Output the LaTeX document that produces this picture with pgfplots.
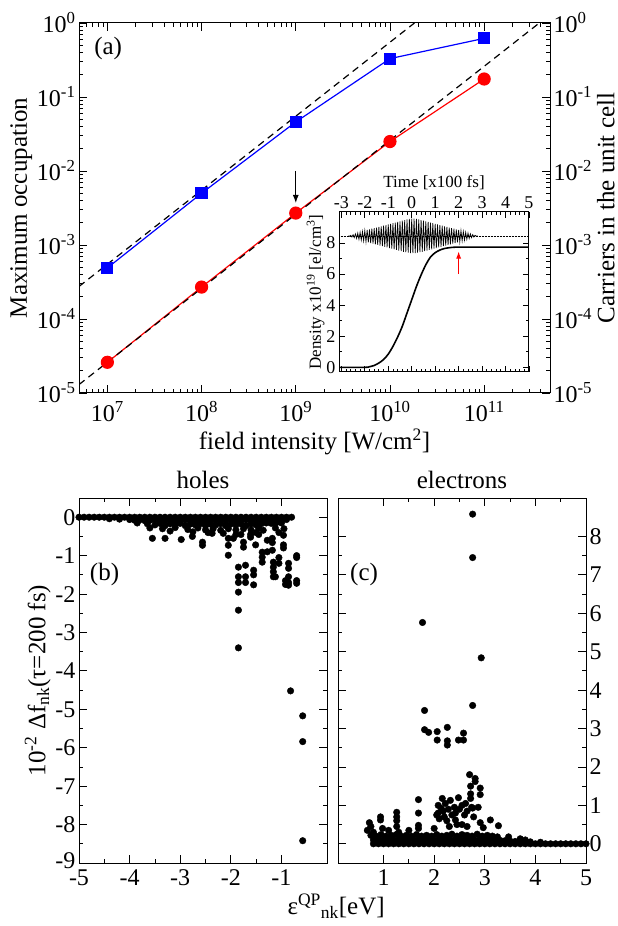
\documentclass[border=0pt]{standalone}
\usepackage{pgfplots}
\pgfplotsset{compat=1.18}
\usepackage{fontspec}
\setmainfont{Liberation Serif}
\usetikzlibrary{arrows.meta}

\pgfplotsset{
  every axis/.append style={
    scale only axis, tick align=inside,
    font=\fontsize{24pt}{28pt}\selectfont,
    label style={font=\fontsize{25pt}{29pt}\selectfont},
    title style={font=\fontsize{25pt}{29pt}\selectfont},
    axis line style={line width=1pt},
    every tick/.style={black, line width=0.8pt},
    major tick length=8pt, minor tick length=4pt,
    /pgf/number format/assume math mode=true,
  },
}

\begin{document}
\begin{tikzpicture}[x=1pt,y=1pt]
\path (0,0) rectangle (618,926);

% ---------------- panel (a)
\begin{axis}[
  at={(79pt,533pt)}, anchor=south west,
  width=471pt, height=370pt,
  xmode=log, ymode=log,
  xmin=5e6, xmax=5e11, ymin=1e-5, ymax=1,
  xtick={1e7,1e8,1e9,1e10,1e11},
  xticklabels={10\textsuperscript{7},10\textsuperscript{8},10\textsuperscript{9},10\textsuperscript{10},10\textsuperscript{11}},
  xticklabel style={yshift=-5pt},
  minor xtick={6e6,7e6,8e6,9e6,2e7,3e7,4e7,5e7,6e7,7e7,8e7,9e7,2e8,3e8,4e8,5e8,6e8,7e8,8e8,9e8,
    2e9,3e9,4e9,5e9,6e9,7e9,8e9,9e9,2e10,3e10,4e10,5e10,6e10,7e10,8e10,9e10,2e11,3e11,4e11},
  ytick={1e-5,1e-4,1e-3,1e-2,1e-1,1},
  yticklabels={10\textsuperscript{-5},10\textsuperscript{-4},10\textsuperscript{-3},10\textsuperscript{-2},10\textsuperscript{-1},10\textsuperscript{0}},
  minor ytick={2e-5,3e-5,4e-5,5e-5,6e-5,7e-5,8e-5,9e-5,2e-4,3e-4,4e-4,5e-4,6e-4,7e-4,8e-4,9e-4,
    2e-3,3e-3,4e-3,5e-3,6e-3,7e-3,8e-3,9e-3,2e-2,3e-2,4e-2,5e-2,6e-2,7e-2,8e-2,9e-2,
    2e-1,3e-1,4e-1,5e-1,6e-1,7e-1,8e-1,9e-1},
  xlabel={field intensity [W/cm\textsuperscript{2}]},
  ylabel={Maximum occupation},
  ylabel style={yshift=-2pt},
]
\addplot[blue, line width=1.2pt, mark=square*, mark size=5.5pt] coordinates {
  (1e7,4.9e-4) (1e8,5.0e-3) (1e9,4.6e-2) (1e10,0.33) (1e11,0.62)};
\addplot[red, line width=1.2pt, mark=*, mark size=6pt] coordinates {
  (1e7,2.6e-5) (1e8,2.7e-4) (1e9,2.7e-3) (1e10,2.5e-2) (1e11,0.175)};
\addplot[black, line width=1.2pt, dash pattern=on 7pt off 5pt] coordinates {(5e6,2.75e-4) (1.82e10,1)};
\addplot[black, line width=1.2pt, dash pattern=on 7pt off 5pt] coordinates {(5e6,1.3e-5) (3.85e11,1)};
\draw[black, line width=1pt, -{Latex[length=8pt,width=6pt]}] (axis cs:1e9,1e-2) -- (axis cs:1e9,3.7e-3);
\node[anchor=west, font=\fontsize{25pt}{29pt}\selectfont] at (rel axis cs:0.025,0.93) {(a)};
\end{axis}

% right-hand labels of panel (a)
\begin{axis}[
  at={(79pt,533pt)}, anchor=south west,
  width=471pt, height=370pt,
  xmode=log, ymode=log,
  xmin=5e6, xmax=5e11, ymin=1e-5, ymax=1,
  xtick=\empty, minor ytick={}, major tick length=0pt,
  axis line style={draw=none},
  ytick={1e-5,1e-4,1e-3,1e-2,1e-1,1},
  yticklabels={10\textsuperscript{-5},10\textsuperscript{-4},10\textsuperscript{-3},10\textsuperscript{-2},10\textsuperscript{-1},10\textsuperscript{0}},
  yticklabel pos=right,
  ylabel={Carriers in the unit cell},
  ylabel style={yshift=2pt},
]
\addplot[draw=none] coordinates {(1e8,1e-3)};
\end{axis}

% ---------------- inset
\begin{axis}[
  at={(339pt,554pt)}, anchor=south west,
  width=190pt, height=160pt,
  axis background/.style={fill=white},
  font=\fontsize{18pt}{21pt}\selectfont,
  label style={font=\fontsize{17pt}{20pt}\selectfont},
  major tick length=6pt, minor tick length=3pt,
  xmin=-3.1, xmax=5, ymin=-0.3, ymax=10,
  xtick={-3,-2,...,5}, minor x tick num=4,
  ytick={0,2,4,6,8}, minor y tick num=1,
  xticklabel pos=upper,
  xlabel={Time [x100 fs]},
  ylabel={Density x10\textsuperscript{19} [el/cm\textsuperscript{3}]},
  ylabel style={yshift=-5pt},
]
\addplot[black, densely dotted, line width=0.5pt] coordinates {(-3.1,8.45) (5,8.45)};
\addplot[black, line width=0.7pt] coordinates {
(-2.70,8.47) (-2.65,8.43) (-2.60,8.50) (-2.55,8.39) (-2.50,8.54) (-2.45,8.35)
(-2.40,8.59) (-2.35,8.30) (-2.30,8.64) (-2.25,8.24) (-2.20,8.69) (-2.15,8.19)
(-2.10,8.74) (-2.05,8.14) (-2.00,8.80) (-1.95,8.08) (-1.90,8.84) (-1.85,8.04)
(-1.80,8.88) (-1.75,8.00) (-1.70,8.92) (-1.65,7.96) (-1.60,8.96) (-1.55,7.92)
(-1.50,9.00) (-1.45,7.88) (-1.40,9.04) (-1.35,7.84) (-1.30,9.08) (-1.25,7.80)
(-1.20,9.12) (-1.15,7.76) (-1.10,9.16) (-1.05,7.72) (-1.00,9.20) (-0.95,7.68)
(-0.90,9.24) (-0.85,7.64) (-0.80,9.28) (-0.75,7.60) (-0.70,9.32) (-0.65,7.56)
(-0.60,9.36) (-0.55,7.52) (-0.50,9.40) (-0.45,7.48) (-0.40,9.44) (-0.35,7.44)
(-0.30,9.48) (-0.25,7.41) (-0.20,9.52) (-0.15,7.38) (-0.10,9.55) (-0.05,7.36)
(0.00,9.58) (0.05,7.35) (0.10,9.58) (0.15,7.36) (0.20,9.55) (0.25,7.38)
(0.30,9.52) (0.35,7.41) (0.40,9.48) (0.45,7.44) (0.50,9.44) (0.55,7.48)
(0.60,9.40) (0.65,7.52) (0.70,9.36) (0.75,7.56) (0.80,9.32) (0.85,7.60)
(0.90,9.28) (0.95,7.64) (1.00,9.24) (1.05,7.68) (1.10,9.20) (1.15,7.72)
(1.20,9.16) (1.25,7.76) (1.30,9.12) (1.35,7.80) (1.40,9.08) (1.45,7.84)
(1.50,9.04) (1.55,7.88) (1.60,9.00) (1.65,7.92) (1.70,8.96) (1.75,7.96)
(1.80,8.92) (1.85,8.00) (1.90,8.88) (1.95,8.04) (2.00,8.84) (2.05,8.08)
(2.10,8.80) (2.15,8.14) (2.20,8.74) (2.25,8.19) (2.30,8.69) (2.35,8.24)
(2.40,8.64) (2.45,8.30) (2.50,8.59) (2.55,8.35) (2.60,8.54) (2.65,8.39)
(2.70,8.50) (2.75,8.43) (2.80,8.47)};
\addplot[black, line width=1.6pt, smooth] coordinates {
  (-3.1,0) (-2,0) (-1.8,0.04) (-1.6,0.12) (-1.4,0.28) (-1.2,0.5) (-1.0,0.85)
  (-0.8,1.35) (-0.6,1.95) (-0.4,2.65) (-0.2,3.5) (0,4.35) (0.2,5.2) (0.4,5.95)
  (0.6,6.6) (0.8,7.1) (1.0,7.38) (1.2,7.55) (1.4,7.65) (1.6,7.7) (1.8,7.73) (2.2,7.74) (5,7.74)};
\draw[red, line width=0.8pt, -{Latex[length=7pt,width=5pt]}] (axis cs:2,6.0) -- (axis cs:2,7.45);
\end{axis}

% ---------------- panel (b)
\begin{axis}[
  at={(79pt,63pt)}, anchor=south west,
  width=248pt, height=365pt,
  xmin=-5, xmax=-0.1, ymin=-9, ymax=0.5,
  xtick={-5,-4,-3,-2,-1}, ytick={-9,-8,...,0},
  yticklabels={\raisebox{5pt}{-9},-8,-7,-6,-5,-4,-3,-2,-1,0},
  xticklabel style={yshift=-3pt},
  minor tick num=1,
  title={holes},
  ylabel={10\textsuperscript{-2} Δf\textsubscript{nk}(τ=200 fs)},
  ylabel style={yshift=-2pt},
]
\addplot[only marks, mark=*, mark size=3.3pt, black] coordinates {
(-5,0) (-4.9,0) (-4.8,0) (-4.7,0) (-4.6,0) (-4.5,0) (-4.4,0) (-4.3,0) (-4.2,0) (-4.1,0)
(-4,0) (-3.9,0) (-3.8,0) (-3.7,0) (-3.6,0) (-3.5,0) (-3.4,0) (-3.3,0) (-3.2,0) (-3.1,0)
(-3,0) (-2.9,0) (-2.8,0) (-2.7,0) (-2.6,0) (-2.5,0) (-2.4,0) (-2.3,0) (-2.2,0) (-2.1,0)
(-2,0) (-1.9,0) (-1.8,0) (-1.7,0) (-1.6,0) (-1.5,0) (-1.4,0) (-1.3,0) (-1.2,0) (-1.1,0)
(-1,0) (-0.9,0) (-0.8,0)
(-4.4,-0.04) (-4.2,-0.05) (-4.0,-0.06) (-3.9,-0.08) (-3.8,-0.07) (-3.7,-0.09) (-3.6,-0.08)
(-3.5,-0.07) (-3.4,-0.09) (-3.3,-0.08) (-3.2,-0.07) (-3.1,-0.09) (-3.0,-0.08) (-2.9,-0.07)
(-2.8,-0.09) (-2.7,-0.08) (-2.6,-0.07) (-2.5,-0.09) (-2.4,-0.08) (-2.3,-0.07) (-2.2,-0.09)
(-2.1,-0.08) (-2.0,-0.07) (-1.9,-0.09) (-1.8,-0.08) (-1.7,-0.07) (-1.6,-0.09) (-1.5,-0.08)
(-1.4,-0.07) (-1.3,-0.09) (-1.2,-0.08) (-1.1,-0.07) (-1.0,-0.09) (-0.9,-0.06)
(-3.85,-0.15) (-3.65,-0.17) (-3.5,-0.2) (-3.4,-0.16) (-3.3,-0.22) (-3.2,-0.17) (-3.1,-0.2)
(-3.0,-0.16) (-2.9,-0.22) (-2.8,-0.18) (-2.7,-0.2) (-2.6,-0.17) (-2.5,-0.22) (-2.4,-0.18)
(-2.3,-0.2) (-2.2,-0.17) (-2.1,-0.22) (-2.0,-0.18) (-1.9,-0.2) (-1.8,-0.17) (-1.7,-0.22)
(-1.6,-0.18) (-1.5,-0.2) (-1.4,-0.17) (-1.3,-0.15) (-1.2,-0.16) (-1.1,-0.14) (-1.0,-0.15)
(-3.6,-0.28) (-3.35,-0.3) (-3.1,-0.27) (-2.85,-0.32) (-2.65,-0.28) (-2.5,-0.33)
(-2.35,-0.3) (-2.2,-0.34) (-2.05,-0.3) (-1.9,-0.33) (-1.75,-0.3) (-1.6,-0.33) (-1.45,-0.28)
(-1.36,-0.34) (-1.12,-0.28) (-0.95,-0.3) (-2.45,-0.4) (-2.75,-0.38) (-3.2,-0.36) (-1.5,-0.4)
(-3.55,-0.55) (-3.3,-0.55) (-2.98,-0.58) (-2.76,-0.5) (-2.56,-0.65) (-2.56,-0.73)
(-2.37,-0.42) (-2.15,-0.42) (-2.05,-0.55) (-2.05,-0.73) (-2.05,-0.99) (-1.95,-0.55)
(-1.9,-0.45) (-1.8,-0.45)
(-1.85,-1.3) (-1.85,-1.55) (-1.85,-1.7) (-1.85,-1.95) (-1.85,-2.42) (-1.85,-3.4)
(-1.75,-0.65) (-1.75,-0.78) (-1.71,-1.25) (-1.71,-1.55) (-1.71,-1.7)
(-1.61,-0.45) (-1.61,-0.52) (-1.55,-1.38) (-1.55,-1.5) (-1.55,-1.76) (-1.51,-0.72)
(-1.45,-0.45) (-1.38,-0.91) (-1.38,-1.04) (-1.38,-1.17) (-1.28,-0.9) (-1.28,-0.6)
(-1.18,-0.55) (-1.18,-0.66) (-1.18,-0.86) (-1.16,-1.17) (-1.16,-1.3) (-1.16,-1.42)
(-1.16,-1.55) (-1.12,-1.55) (-1.05,-0.4) (-1.05,-1.05) (-1.05,-1.2)
(-0.96,-0.47) (-0.96,-0.72) (-0.96,-0.8) (-0.92,-1.65) (-0.92,-1.75)
(-0.86,-1.2) (-0.86,-1.33) (-0.86,-1.55) (-0.86,-1.7) (-0.86,-1.77)
(-0.7,-1.0) (-0.7,-1.05) (-0.7,-1.65) (-0.7,-1.72)
(-0.82,-4.52) (-0.58,-5.17) (-0.58,-5.84) (-0.58,-8.42)};
\node[anchor=west, font=\fontsize{25pt}{29pt}\selectfont] at (rel axis cs:0.03,0.79) {(b)};
\end{axis}

% ---------------- panel (c)
\begin{axis}[
  at={(338pt,63pt)}, anchor=south west,
  width=248pt, height=365pt,
  xmin=0.1, xmax=5, ymin=-0.5, ymax=9,
  xtick={1,2,3,4,5}, ytick={0,1,...,8},
  xticklabel style={yshift=-3pt},
  minor tick num=1,
  yticklabel pos=right,
  title={electrons},
]
\addplot[only marks, mark=*, mark size=3.3pt, black] coordinates {
(0.8,0) (0.9,0) (1,0) (1.1,0) (1.2,0) (1.3,0) (1.4,0) (1.5,0) (1.6,0) (1.7,0)
(1.8,0) (1.9,0) (2,0) (2.1,0) (2.2,0) (2.3,0) (2.4,0) (2.5,0) (2.6,0) (2.7,0)
(2.8,0) (2.9,0) (3,0) (3.1,0) (3.2,0) (3.3,0) (3.4,0) (3.5,0) (3.6,0) (3.7,0)
(3.8,0) (3.9,0) (4,0) (4.1,0) (4.2,0) (4.3,0) (4.4,0) (4.5,0) (4.6,0) (4.7,0)
(4.8,0) (4.9,0) (5,0)
(0.8,0.1) (0.9,0.11) (1,0.1) (1.1,0.12) (1.2,0.1) (1.3,0.11) (1.4,0.1) (1.5,0.12)
(1.6,0.1) (1.7,0.11) (1.8,0.1) (1.9,0.12) (2,0.1) (2.1,0.11) (2.2,0.1) (2.3,0.12)
(2.4,0.1) (2.5,0.11) (2.6,0.1) (2.7,0.12) (2.8,0.1) (2.9,0.11) (3,0.1) (3.1,0.12)
(3.2,0.1) (3.3,0.09) (3.4,0.08) (3.5,0.07) (3.6,0.06) (3.7,0.05) (3.9,0.05) (4.1,0.04)
(0.75,0.22) (0.85,0.2) (0.95,0.24) (1.05,0.2) (1.15,0.22) (1.25,0.24) (1.35,0.2)
(1.45,0.22) (1.55,0.2) (1.65,0.24) (1.75,0.2) (1.85,0.22) (1.95,0.2) (2.05,0.24)
(2.15,0.2) (2.25,0.22) (2.35,0.25) (2.45,0.2) (2.55,0.24) (2.65,0.22) (2.75,0.2)
(2.85,0.25) (2.95,0.2) (3.05,0.22) (3.15,0.2) (3.25,0.18) (3.47,0.18) (3.7,0.13) (3.8,0.1)
(0.68,0.35) (0.72,0.55) (0.75,0.45) (0.8,0.3) (0.94,0.7) (0.94,0.62) (0.98,0.4)
(1.1,0.35) (1.26,0.82) (1.26,0.7) (1.26,0.6) (1.26,0.45) (1.3,0.3) (1.5,0.35)
(1.69,1.15) (1.69,0.8) (1.69,0.48) (1.69,0.4) (2.0,0.4) (2.05,0.75) (2.08,1.0)
(2.08,0.8) (2.1,0.65) (2.14,0.92) (2.16,1.18) (2.18,0.85) (2.2,0.7) (2.22,1.05)
(2.25,0.6) (2.28,0.9) (2.3,0.45) (2.32,1.13) (2.35,0.75) (2.4,0.95) (2.42,0.8)
(2.42,0.62) (2.45,0.5) (2.48,1.2) (2.5,0.9) (2.55,1.0) (2.55,0.5) (2.6,0.75)
(2.62,1.05) (2.65,0.85) (2.65,0.45) (2.7,1.8) (2.72,1.5) (2.72,1.3) (2.72,1.18)
(2.74,0.95) (2.76,0.93) (2.78,0.7) (2.81,1.7) (2.81,1.62) (2.87,0.95) (2.91,1.45)
(2.91,1.28) (2.91,0.55) (2.97,0.42) (3.11,0.62) (3.27,0.47)
(1.81,3.47) (1.81,2.97) (1.89,2.9) (2.06,2.92) (2.06,2.7) (2.26,3.03) (2.26,2.68)
(2.26,2.57) (2.48,2.7) (2.58,2.88) (2.58,2.7) (2.76,3.6)
(1.77,5.76) (2.93,4.84) (2.76,7.45) (2.76,8.58)};
\node[anchor=west, font=\fontsize{25pt}{29pt}\selectfont] at (rel axis cs:0.035,0.79) {(c)};
\end{axis}

\node[anchor=base west, font=\fontsize{25pt}{29pt}\selectfont] at (284pt,11pt)
  {ε\textsuperscript{QP}\textsubscript{nk}[eV]};
\end{tikzpicture}
\end{document}
